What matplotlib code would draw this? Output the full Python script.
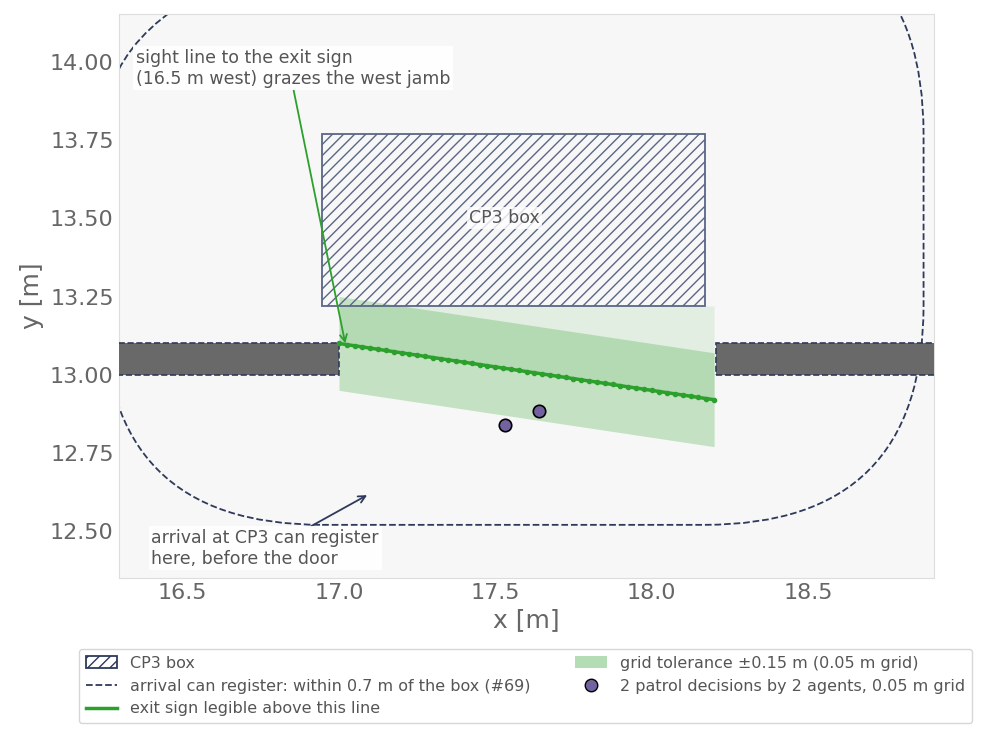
import matplotlib
matplotlib.use("Agg")
import matplotlib.pyplot as plt
import numpy as np
from matplotlib.patches import Rectangle, FancyBboxPatch, Patch
from matplotlib.lines import Line2D

box = (16.946, 13.22, 18.17, 13.77)
walls = [(16.29, 17.0), (18.205, 18.91)]
wall_y = (13.0, 13.1)
reg_dist = 0.7
line_x = [17.0, 18.2]
line_y = [13.10, 12.92]
tol = 0.15
dots_x = [17.53, 17.64]
dots_y = [12.84, 12.885]

fig = plt.figure(figsize=(9.97, 7.42), dpi=100)
ax = fig.add_axes([0.119, 0.221, 0.818, 0.760])
ax.set_facecolor("#f7f7f7")
for s in ax.spines.values():
    s.set_color("#dddddd")
navy = "#2e3a59"
green = "#2ca02c"

rr = FancyBboxPatch((box[0], box[1]), box[2]-box[0], box[3]-box[1],
                    boxstyle=f"round,pad={reg_dist},rounding_size={reg_dist}",
                    fill=False, ec=navy, ls="--", lw=1.3, zorder=2)
ax.add_patch(rr)
for a, b in walls:
    ax.add_patch(Rectangle((a, wall_y[0]), b-a, wall_y[1]-wall_y[0], fc="#696969",
                           ec=navy, ls="--", lw=1.2, zorder=3))
ax.add_patch(Rectangle((box[0], box[1]), box[2]-box[0], box[3]-box[1], fill=False,
                       ec="#5a6785", hatch="///", lw=1.3, zorder=3))
xs = np.linspace(line_x[0], line_x[1], 49)
ys = np.interp(xs, line_x, line_y)
ax.fill_between(xs, ys, box[1], color="#2ca02c", alpha=0.1, lw=0, zorder=2)
ax.fill_between(xs, ys - tol, ys + tol, color="#2ca02c", alpha=0.25, lw=0, zorder=2)
ax.plot(xs, ys, color=green, lw=2.5, marker="o", ms=3, zorder=4)
ax.scatter(dots_x, dots_y, s=80, color="#7262a0", ec="black", lw=1.2, zorder=5)

ax.text(17.53, 13.5, "CP3 box", ha="center", va="center", fontsize=12.5, color="#555555",
        bbox=dict(fc="white", ec="none", alpha=0.8, pad=1.5), zorder=6)
ax.annotate("sight line to the exit sign\n(16.5 m west) grazes the west jamb",
            xy=(17.02, 13.10), xytext=(16.35, 13.98), fontsize=12.5, color="#555555",
            ha="left", va="center", zorder=6,
            bbox=dict(fc="white", ec="none", alpha=0.9, pad=2),
            arrowprops=dict(arrowstyle="->", color=green, lw=1.3, shrinkA=0, shrinkB=0,
                            relpos=(0.5, 0.0)))
ax.annotate("arrival at CP3 can register\nhere, before the door",
            xy=(17.09, 12.615), xytext=(16.4, 12.445), fontsize=12.5, color="#555555",
            ha="left", va="center", zorder=6,
            bbox=dict(fc="white", ec="none", alpha=0.9, pad=2),
            arrowprops=dict(arrowstyle="->", color=navy, lw=1.3, shrinkA=0, shrinkB=0,
                            relpos=(0.68, 1.0)))

ax.set_xlim(16.295, 18.904)
ax.set_ylim(12.35, 14.153)
ax.set_xticks([16.5, 17.0, 17.5, 18.0, 18.5])
ax.set_yticks([12.5, 12.75, 13.0, 13.25, 13.5, 13.75, 14.0])
ax.set_yticklabels([f"{v:.2f}" for v in ax.get_yticks()])
ax.tick_params(labelsize=16, colors="#666666", length=0)
ax.set_xlabel("x [m]", fontsize=18, color="#666666")
ax.set_ylabel("y [m]", fontsize=18, color="#666666")

handles = [Patch(fc="white", ec=navy, hatch="///", lw=1.3),
           Line2D([], [], color=navy, ls="--", lw=1.3),
           Line2D([], [], color=green, lw=2.5),
           Patch(fc=green, alpha=0.35, lw=0),
           Line2D([], [], marker="o", ls="", mfc="#7262a0", mec="black", ms=9)]
labels = ["CP3 box", "arrival can register: within 0.7 m of the box (#69)",
          "exit sign legible above this line", "grid tolerance ±0.15 m (0.05 m grid)",
          "2 patrol decisions by 2 agents, 0.05 m grid"]
leg = fig.legend(handles, labels, loc="lower center", bbox_to_anchor=(0.527, 0.015), ncol=2,
                 fontsize=11.5, labelcolor="#555555", columnspacing=2.8, frameon=True)
leg.get_frame().set_edgecolor("#cccccc")
fig.savefig("out.png", dpi=100)
